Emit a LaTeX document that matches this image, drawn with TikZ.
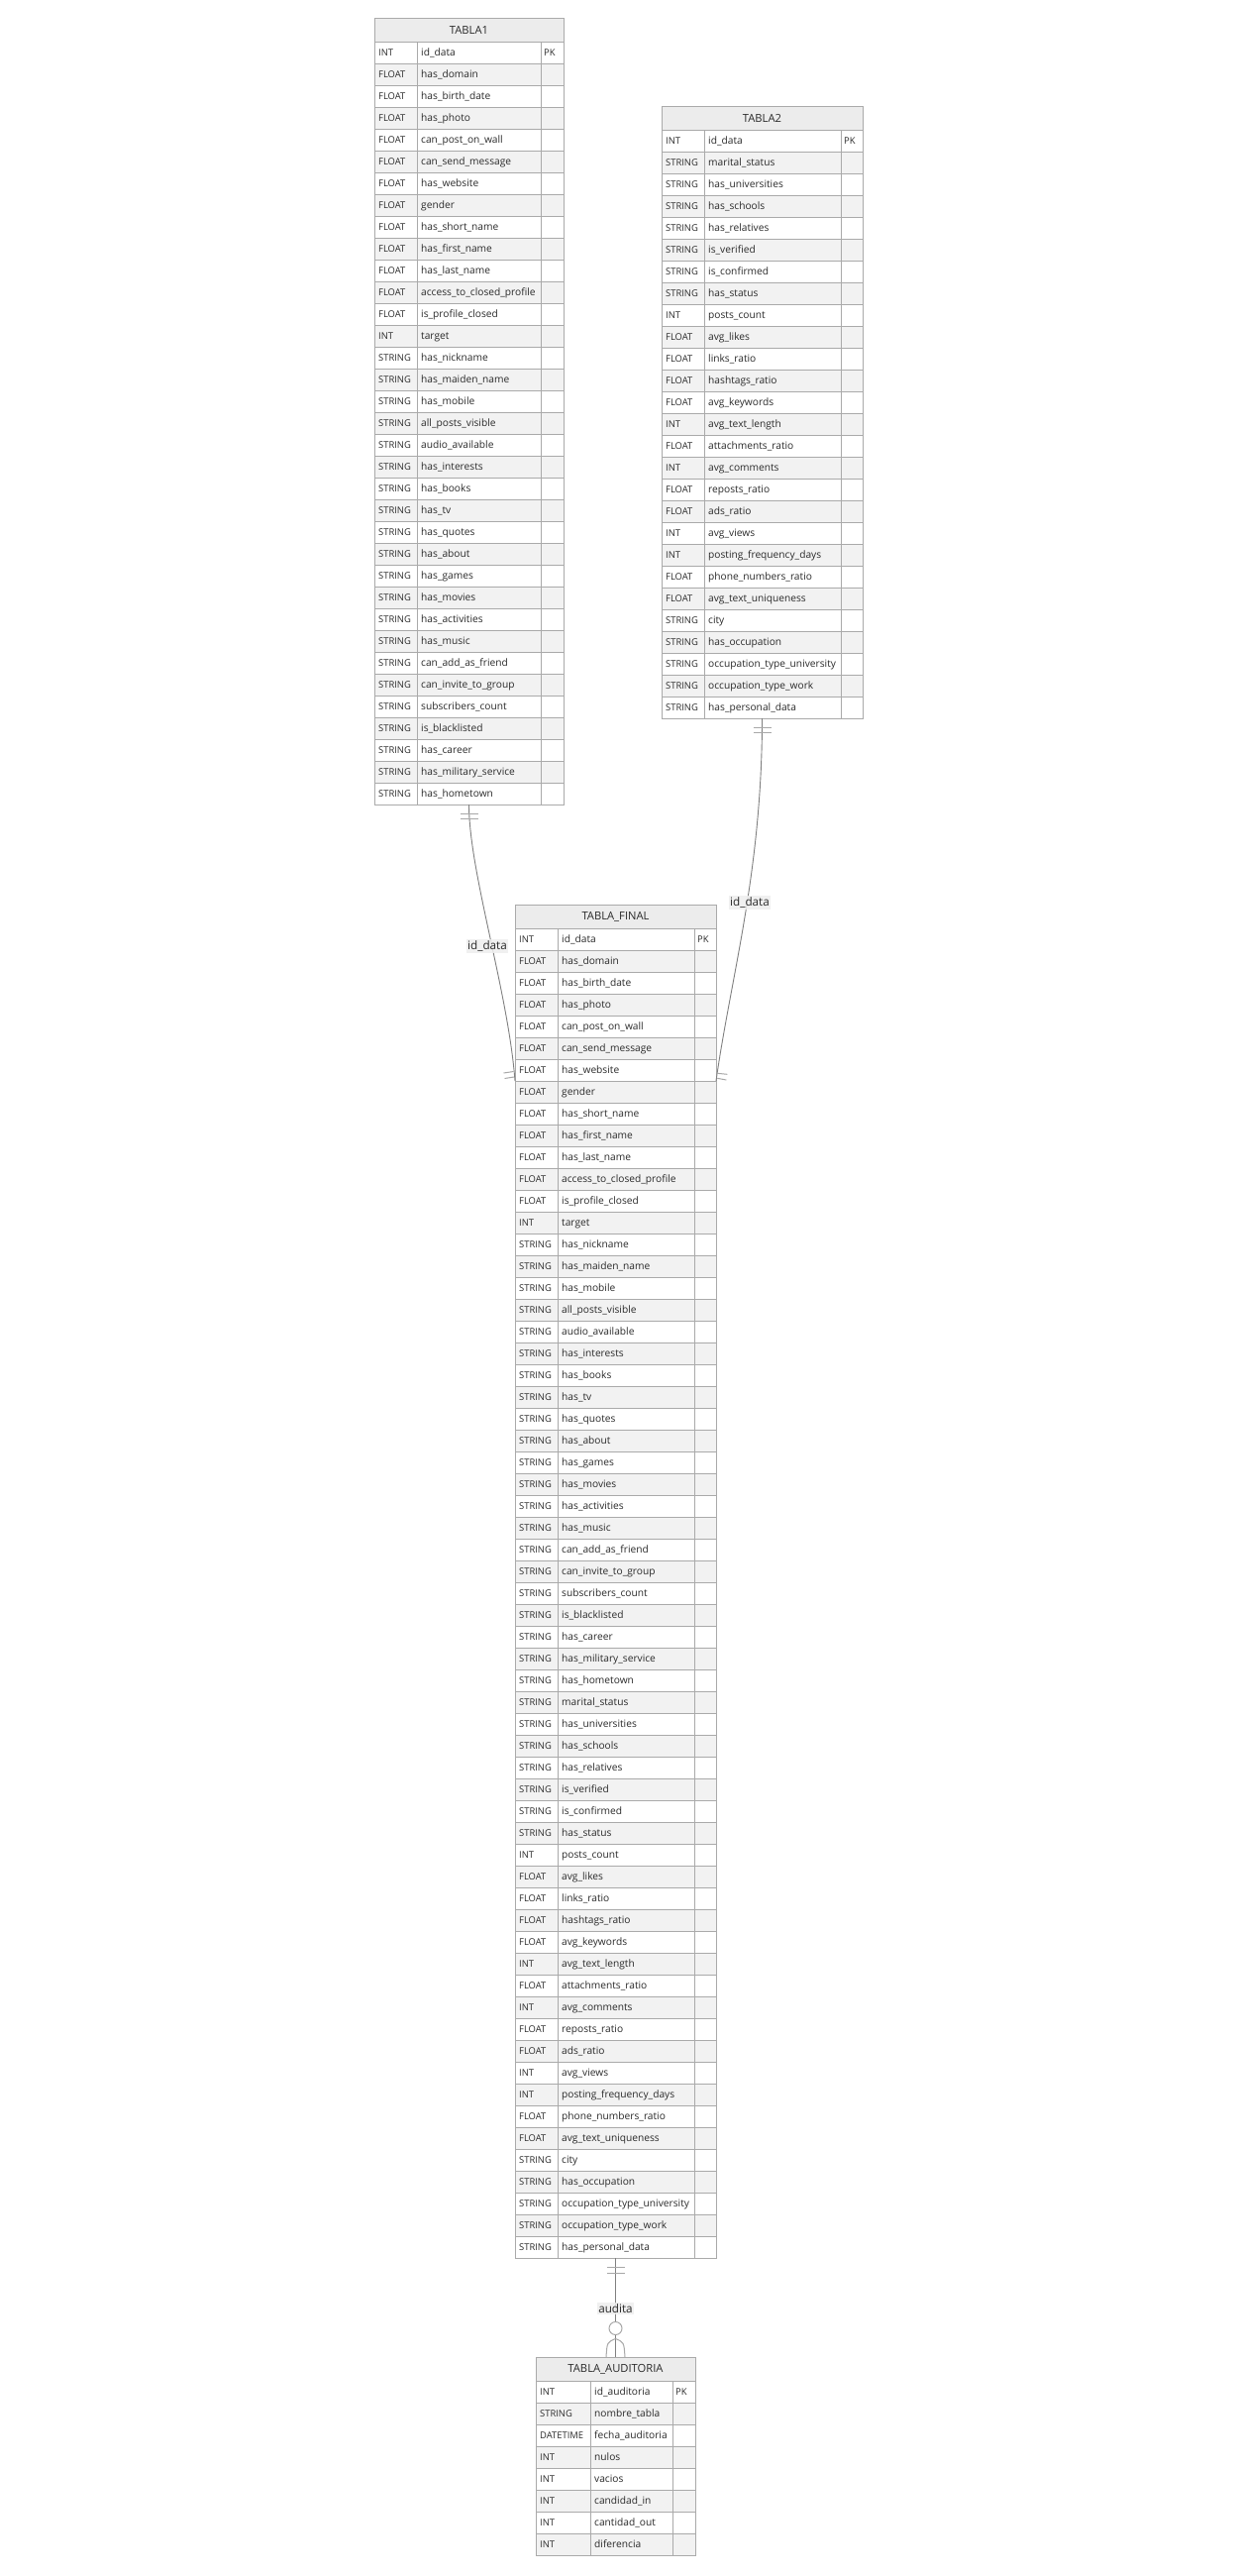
\documentclass[tikz,border=0pt]{standalone}
\usepackage{fontspec}
\setmainfont{Open Sans}
\definecolor{bordc}{HTML}{AAAAAA}
\definecolor{hdrc}{HTML}{ECECEC}
\definecolor{rowg}{HTML}{F2F2F2}
\definecolor{txtc}{HTML}{2A2A2A}
\definecolor{linec}{HTML}{808080}
\definecolor{markc}{HTML}{A8A8A8}
\definecolor{lblbg}{HTML}{EEEEEE}
\tikzset{
  cellbox/.style={draw=bordc, line width=1pt, anchor=north west, inner sep=0pt, outer sep=0pt, minimum height=22pt},
  celltxt/.style={anchor=west, inner sep=0pt, text=txtc, font=\fontsize{10.2}{12}\selectfont, text height=7pt, text depth=0pt},
  typetxt/.style={celltxt, font=\fontsize{9.4}{12}\selectfont},
  hdrbox/.style={draw=bordc, line width=1pt, fill=hdrc, anchor=north west, inner sep=0pt, outer sep=0pt, minimum height=24pt, text=txtc, font=\fontsize{11.2}{13}\selectfont},
  tblbox/.style={draw=bordc, line width=1pt, anchor=north west, inner sep=0pt, outer sep=0pt},
  conn/.style={draw=linec, line width=0.9pt},
  erbar/.style={draw=markc, line width=1pt},
  rellbl/.style={fill=lblbg, fill opacity=0.85, text opacity=1, text=txtc, inner sep=1.5pt, font=\fontsize{11.7}{14}\selectfont},
}
\newcommand\ertable[9]{%
  \pgfmathsetmacro\ertw{#4+#5+#6}%
  \pgfmathsetmacro\erth{24+#8*22}%
  \node[hdrbox, minimum width=\ertw pt] (#1-h) at (#2,#3) {#7};
  \foreach[count=\i] \ty/\nm in {#9}{%
    \ifodd\i\relax\def\rf{white}\else\def\rf{rowg}\fi
    \pgfmathsetmacro\ry{#3+24+(\i-1)*22}%
    \node[cellbox, fill=\rf, minimum width=#4pt] (#1-t\i) at (#2,\ry) {};
    \node[cellbox, fill=\rf, minimum width=#5pt] (#1-n\i) at (#1-t\i.north east) {};
    \node[cellbox, fill=\rf, minimum width=#6pt] (#1-k\i) at (#1-n\i.north east) {};
    \node[typetxt] (#1-tt\i) at ([xshift=4pt]#1-t\i.west) {\ty};
    \node[celltxt] (#1-nt\i) at ([xshift=4pt]#1-n\i.west) {\nm};
    \ifnum\i=1 \node[typetxt] (#1-kt\i) at ([xshift=3pt]#1-k\i.west) {PK};\fi
  }
  \node[tblbox, minimum width=\ertw pt, minimum height=\erth pt] (#1) at (#2,#3) {};
}
\begin{document}
\catcode`\_=12
\begin{tikzpicture}[x=1pt,y=-1pt]
\fill[white] (0,0) rectangle (1250,2600);
\useasboundingbox (0,0) rectangle (1250,2600);

\ertable{tA}{378}{18}{43}{125}{23}{TABLA1}{35}{INT/id_data, FLOAT/has_domain, FLOAT/has_birth_date, FLOAT/has_photo, FLOAT/can_post_on_wall, FLOAT/can_send_message, FLOAT/has_website, FLOAT/gender, FLOAT/has_short_name, FLOAT/has_first_name, FLOAT/has_last_name, FLOAT/access_to_closed_profile, FLOAT/is_profile_closed, INT/target, STRING/has_nickname, STRING/has_maiden_name, STRING/has_mobile, STRING/all_posts_visible, STRING/audio_available, STRING/has_interests, STRING/has_books, STRING/has_tv, STRING/has_quotes, STRING/has_about, STRING/has_games, STRING/has_movies, STRING/has_activities, STRING/has_music, STRING/can_add_as_friend, STRING/can_invite_to_group, STRING/subscribers_count, STRING/is_blacklisted, STRING/has_career, STRING/has_military_service, STRING/has_hometown}

\ertable{tB}{668}{107}{43}{138}{22}{TABLA2}{27}{INT/id_data, STRING/marital_status, STRING/has_universities, STRING/has_schools, STRING/has_relatives, STRING/is_verified, STRING/is_confirmed, STRING/has_status, INT/posts_count, FLOAT/avg_likes, FLOAT/links_ratio, FLOAT/hashtags_ratio, FLOAT/avg_keywords, INT/avg_text_length, FLOAT/attachments_ratio, INT/avg_comments, FLOAT/reposts_ratio, FLOAT/ads_ratio, INT/avg_views, INT/posting_frequency_days, FLOAT/phone_numbers_ratio, FLOAT/avg_text_uniqueness, STRING/city, STRING/has_occupation, STRING/occupation_type_university, STRING/occupation_type_work, STRING/has_personal_data}

\ertable{tF}{520}{913}{43}{138}{22}{TABLA_FINAL}{61}{INT/id_data, FLOAT/has_domain, FLOAT/has_birth_date, FLOAT/has_photo, FLOAT/can_post_on_wall, FLOAT/can_send_message, FLOAT/has_website, FLOAT/gender, FLOAT/has_short_name, FLOAT/has_first_name, FLOAT/has_last_name, FLOAT/access_to_closed_profile, FLOAT/is_profile_closed, INT/target, STRING/has_nickname, STRING/has_maiden_name, STRING/has_mobile, STRING/all_posts_visible, STRING/audio_available, STRING/has_interests, STRING/has_books, STRING/has_tv, STRING/has_quotes, STRING/has_about, STRING/has_games, STRING/has_movies, STRING/has_activities, STRING/has_music, STRING/can_add_as_friend, STRING/can_invite_to_group, STRING/subscribers_count, STRING/is_blacklisted, STRING/has_career, STRING/has_military_service, STRING/has_hometown, STRING/marital_status, STRING/has_universities, STRING/has_schools, STRING/has_relatives, STRING/is_verified, STRING/is_confirmed, STRING/has_status, INT/posts_count, FLOAT/avg_likes, FLOAT/links_ratio, FLOAT/hashtags_ratio, FLOAT/avg_keywords, INT/avg_text_length, FLOAT/attachments_ratio, INT/avg_comments, FLOAT/reposts_ratio, FLOAT/ads_ratio, INT/avg_views, INT/posting_frequency_days, FLOAT/phone_numbers_ratio, FLOAT/avg_text_uniqueness, STRING/city, STRING/has_occupation, STRING/occupation_type_university, STRING/occupation_type_work, STRING/has_personal_data}

\ertable{tD}{541}{2379}{55}{83}{23}{TABLA_AUDITORIA}{8}{INT/id_auditoria, STRING/nombre_tabla, DATETIME/fecha_auditoria, INT/nulos, INT/vacios, INT/candidad_in, INT/cantidad_out, INT/diferencia}

% connectors
\draw[conn] (tA.south) .. controls (473.5,880) and (513,1000) .. (tF-t7.south west);
\draw[conn] (tB.south) .. controls (769.5,880) and (738,985) .. (tF-k7.south east);
\draw[conn] (tF.south) -- (tD.north);

% one-and-only-one markers at the parent tables
\draw[erbar] ([xshift=-9pt,yshift=-9pt]tA.south) -- ++(18pt,0);
\draw[erbar] ([xshift=-9pt,yshift=-14.5pt]tA.south) -- ++(18pt,0);
\draw[erbar] ([xshift=-9pt,yshift=-9pt]tB.south) -- ++(18pt,0);
\draw[erbar] ([xshift=-9pt,yshift=-14.5pt]tB.south) -- ++(18pt,0);
\draw[erbar] ([xshift=-9pt,yshift=-9.5pt]tF.south) -- ++(18pt,0);
\draw[erbar] ([xshift=-9pt,yshift=-15pt]tF.south) -- ++(18pt,0);

% markers at TABLA_FINAL
\draw[erbar] ([xshift=-11.5pt,yshift=8pt]tF-t7.south west) -- ([xshift=-1.5pt,yshift=9.5pt]tF-t7.south west);
\draw[erbar] ([xshift=-10.5pt,yshift=2.5pt]tF-t7.south west) -- ([xshift=-1pt,yshift=4pt]tF-t7.south west);
\draw[erbar] ([xshift=1.3pt,yshift=7.7pt]tF-k7.south east) -- ([xshift=11.3pt,yshift=6.7pt]tF-k7.south east);
\draw[erbar] ([xshift=1.3pt,yshift=2.7pt]tF-k7.south east) -- ([xshift=10.3pt,yshift=1pt]tF-k7.south east);

% zero-or-more marker at TABLA_AUDITORIA
\draw[erbar, fill=white] ([yshift=29pt]tD.north) circle (6.5pt);
\draw[erbar] ([yshift=18.5pt]tD.north) .. controls ([xshift=-8.5pt,yshift=15pt]tD.north) .. ([xshift=-9.5pt]tD.north);
\draw[erbar] ([yshift=18.5pt]tD.north) .. controls ([xshift=8.5pt,yshift=15pt]tD.north) .. ([xshift=9.5pt]tD.north);

% relationship labels
\node[rellbl] (lA) at (492,955) {id_data};
\node[rellbl] (lB) at (757,911) {id_data};
\node[rellbl] (lD) at (621.5,2330) {audita};
\end{tikzpicture}
\end{document}
